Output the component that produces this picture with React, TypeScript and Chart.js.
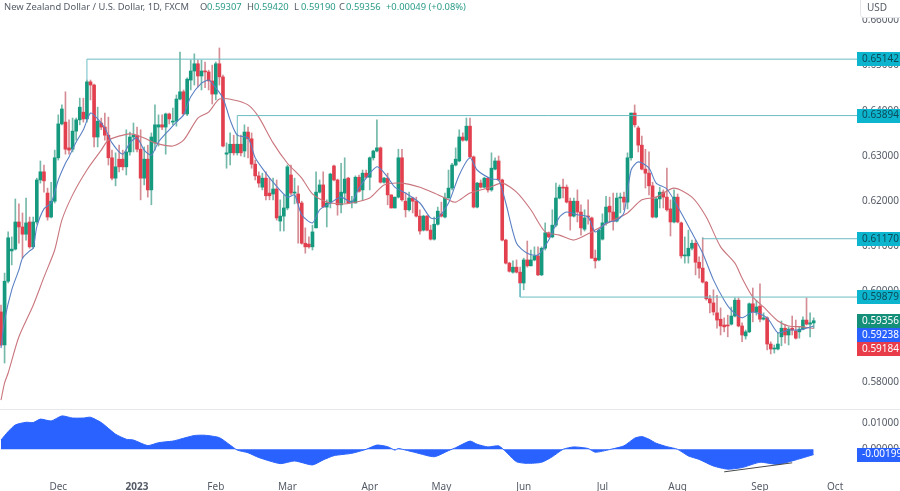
import React, { useEffect, useRef } from "react";
import { Chart, registerables } from "chart.js";

Chart.register(...registerables);

const title = "New Zealand Dollar / U.S. Dollar, 1D, FXCM";
const ohlcLabels = ["O", "H", "L", "C"];
const ohlcValues = ["0.59307", "0.59420", "0.59190", "0.59356"];
const changeLabel = "+0.00049 (+0.08%)";

const opens = [
  .5955,.5882,.6023,.6090,.6094,.6154,.6143,.6127,.6154,.6099,
  .6154,.6247,.6265,.6218,.6165,.6200,.6296,.6371,.6375,.6318,
  .6315,.6355,.6380,.6397,.6382,.6464,.6457,.6342,.6373,.6364,
  .6346,.6296,.6251,.6293,.6293,.6276,.6309,.6342,.6346,.6315,
  .6251,.6293,.6225,.6329,.6364,.6369,.6364,.6393,.6375,.6377,
  .6426,.6442,.6393,.6468,.6488,.6504,.6477,.6488,.6486,.6466,
  .6437,.6504,.6475,.6304,.6307,.6326,.6307,.6326,.6311,.6353,
  .6338,.6282,.6256,.6231,.6251,.6218,.6216,.6227,.6156,.6167,
  .6185,.6258,.6218,.6216,.6196,.6107,.6105,.6099,.6141,.6220,
  .6236,.6187,.6196,.6278,.6247,.6192,.6218,.6251,.6198,.6196,
  .6253,.6225,.6262,.6253,.6296,.6311,.6318,.6242,.6251,.6214,
  .6185,.6209,.6296,.6200,.6181,.6207,.6200,.6167,.6136,.6167,
  .6136,.6116,.6149,.6172,.6165,.6207,.6229,.6280,.6289,.6342,
  .6335,.6366,.6298,.6187,.6240,.6231,.6251,.6225,.6271,.6289,
  .6247,.6114,.6063,.6043,.6054,.6043,.6019,.6070,.6057,.6070,
  .6079,.6037,.6096,.6130,.6121,.6147,.6207,.6231,.6231,.6200,
  .6167,.6200,.6176,.6138,.6167,.6163,.6074,.6070,.6116,.6152,
  .6189,.6176,.6156,.6207,.6209,.6198,.6296,.6395,.6362,.6324,
  .6271,.6262,.6234,.6165,.6205,.6220,.6209,.6183,.6154,.6209,
  .6152,.6079,.6079,.6096,.6107,.6065,.6052,.6021,.5984,.5975,
  .5953,.5939,.5926,.5926,.5928,.5946,.5981,.5924,.5902,.5911,
  .5973,.5955,.5968,.5939,.5942,.5884,.5873,.5873,.5900,.5919,
  .5904,.5919,.5913,.5911,.5917,.5937,.5928,.59307,
];
const closes = [
  .5882,.6023,.6119,.6094,.6154,.6143,.6127,.6152,.6099,.6154,
  .6247,.6265,.6245,.6165,.6200,.6296,.6371,.6404,.6315,.6313,
  .6355,.6380,.6408,.6382,.6464,.6457,.6342,.6377,.6364,.6346,
  .6296,.6251,.6276,.6276,.6276,.6309,.6342,.6346,.6315,.6251,
  .6293,.6225,.6342,.6369,.6369,.6364,.6393,.6382,.6377,.6426,
  .6442,.6393,.6470,.6488,.6504,.6477,.6488,.6486,.6466,.6437,
  .6504,.6475,.6322,.6307,.6326,.6307,.6326,.6307,.6353,.6338,
  .6282,.6256,.6240,.6251,.6212,.6212,.6227,.6163,.6167,.6185,
  .6276,.6218,.6220,.6196,.6107,.6099,.6099,.6132,.6220,.6236,
  .6187,.6196,.6260,.6247,.6192,.6220,.6249,.6196,.6200,.6253,
  .6222,.6262,.6253,.6296,.6311,.6318,.6242,.6251,.6214,.6185,
  .6209,.6296,.6203,.6181,.6207,.6200,.6167,.6134,.6167,.6136,
  .6116,.6149,.6178,.6167,.6207,.6229,.6280,.6293,.6342,.6335,
  .6366,.6298,.6187,.6240,.6231,.6251,.6225,.6273,.6289,.6247,
  .6114,.6063,.6045,.6054,.6043,.6019,.6070,.6057,.6070,.6079,
  .6037,.6096,.6130,.6121,.6147,.6207,.6231,.6229,.6198,.6167,
  .6200,.6176,.6141,.6163,.6165,.6074,.6068,.6136,.6152,.6187,
  .6176,.6156,.6207,.6209,.6198,.6296,.6395,.6369,.6324,.6271,
  .6262,.6234,.6165,.6205,.6220,.6209,.6181,.6154,.6209,.6154,
  .6079,.6081,.6096,.6107,.6065,.6052,.6021,.5984,.5975,.5955,
  .5937,.5924,.5922,.5924,.5946,.5981,.5924,.5904,.5911,.5973,
  .5955,.5966,.5939,.5942,.5884,.5873,.5875,.5884,.5919,.5904,
  .5917,.5915,.5897,.5917,.5937,.5928,.5931,.59356,
];
const highs = [
  .5970,.6041,.6132,.6121,.6205,.6194,.6174,.6207,.6165,.6165,
  .6251,.6289,.6280,.6229,.6242,.6313,.6391,.6413,.6442,.6380,
  .6384,.6384,.6428,.6428,.6468,.6468,.6459,.6408,.6384,.6395,
  .6386,.6313,.6307,.6324,.6313,.6358,.6353,.6373,.6364,.6358,
  .6320,.6324,.6351,.6413,.6391,.6391,.6395,.6395,.6406,.6435,
  .6530,.6446,.6473,.6512,.6526,.6512,.6512,.6508,.6490,.6501,
  .6508,.6539,.6479,.6329,.6351,.6346,.6349,.6346,.6369,.6364,
  .6351,.6291,.6265,.6262,.6265,.6251,.6251,.6247,.6203,.6214,
  .6280,.6280,.6251,.6234,.6200,.6141,.6121,.6147,.6265,.6247,
  .6265,.6203,.6262,.6280,.6249,.6284,.6296,.6253,.6211,.6256,
  .6258,.6269,.6269,.6298,.6313,.6380,.6320,.6253,.6262,.6214,
  .6209,.6315,.6315,.6218,.6220,.6209,.6209,.6181,.6169,.6169,
  .6147,.6165,.6187,.6198,.6218,.6269,.6284,.6318,.6358,.6351,
  .6384,.6384,.6300,.6242,.6247,.6253,.6253,.6307,.6296,.6300,
  .6249,.6116,.6065,.6068,.6070,.6054,.6074,.6112,.6092,.6099,
  .6099,.6099,.6152,.6132,.6181,.6240,.6236,.6249,.6236,.6207,
  .6207,.6225,.6192,.6181,.6203,.6165,.6092,.6138,.6172,.6211,
  .6209,.6218,.6218,.6218,.6220,.6307,.6395,.6413,.6366,.6344,
  .6315,.6309,.6242,.6209,.6231,.6225,.6273,.6203,.6225,.6216,
  .6154,.6121,.6136,.6114,.6114,.6077,.6119,.6023,.5992,.6004,
  .5992,.5964,.5942,.5948,.5966,.5986,.5986,.5931,.5915,.5975,
  .6008,.5981,.6017,.5953,.5944,.5889,.5882,.5909,.5935,.5926,
  .5922,.5946,.5937,.5922,.5944,.5986,.5953,.5942,
];
const lows = [
  .5880,.5842,.6019,.6059,.6092,.6107,.6074,.6114,.6096,.6096,
  .6149,.6240,.6220,.6158,.6163,.6196,.6291,.6369,.6304,.6304,
  .6309,.6335,.6369,.6375,.6375,.6424,.6320,.6320,.6358,.6335,
  .6280,.6247,.6234,.6265,.6269,.6258,.6302,.6309,.6309,.6203,
  .6236,.6209,.6192,.6313,.6322,.6358,.6304,.6371,.6369,.6366,
  .6424,.6391,.6389,.6446,.6457,.6453,.6446,.6451,.6446,.6415,
  .6424,.6457,.6320,.6273,.6280,.6302,.6302,.6300,.6298,.6296,
  .6273,.6247,.6231,.6225,.6203,.6203,.6203,.6158,.6134,.6134,
  .6181,.6214,.6194,.6107,.6105,.6085,.6096,.6092,.6141,.6218,
  .6187,.6143,.6185,.6245,.6169,.6174,.6196,.6196,.6185,.6196,
  .6220,.6203,.6251,.6225,.6291,.6309,.6240,.6240,.6192,.6185,
  .6185,.6207,.6200,.6165,.6178,.6174,.6165,.6127,.6134,.6134,
  .6114,.6114,.6147,.6165,.6163,.6207,.6225,.6278,.6287,.6333,
  .6333,.6296,.6185,.6185,.6229,.6229,.6220,.6222,.6269,.6245,
  .6112,.6061,.6043,.6041,.6041,.6019,.6004,.6054,.6057,.6068,
  .6035,.6035,.6092,.6119,.6119,.6143,.6205,.6207,.6196,.6136,
  .6165,.6154,.6125,.6134,.6149,.6074,.6052,.6068,.6114,.6147,
  .6154,.6136,.6154,.6174,.6181,.6183,.6291,.6364,.6309,.6269,
  .6229,.6214,.6163,.6163,.6185,.6185,.6178,.6123,.6152,.6152,
  .6074,.6063,.6063,.6092,.6037,.6030,.6019,.5981,.5953,.5948,
  .5919,.5904,.5911,.5900,.5926,.5944,.5922,.5889,.5895,.5909,
  .5933,.5948,.5933,.5937,.5871,.5862,.5864,.5871,.5880,.5886,
  .5882,.5904,.5895,.5897,.5915,.5926,.5900,.5919,
];

const fastMaIndex = [0,1,3,5,6,8,9,10,12,14,16,18,19,21,23,25,27,29,31,34,36,38,40,42,44,47,49,51,53,56,58,59,62,64,66,69,71,74,76,80,82,84,87,89,92,95,98,100,105,108,110,113,117,120,122,125,128,131,133,137,139,141,144,147,150,153,156,158,161,164,166,169,172,174,176,178,181,183,186,190,193,196,199,202,204,207,210,214,217,220,223,227];
const fastMa = [.5875,.5937,.6004,.6048,.6074,.6090,.6096,.6143,.6183,.6196,.6247,.6284,.6298,.6331,.6358,.6395,.6382,.6362,.6329,.6304,.6329,.6340,.6313,.6302,.6331,.6358,.6375,.6391,.6431,.6461,.6468,.6461,.6428,.6380,.6346,.6340,.6296,.6262,.6242,.6209,.6214,.6170,.6152,.6181,.6196,.6209,.6198,.6229,.6276,.6253,.6231,.6218,.6196,.6163,.6163,.6196,.6258,.6296,.6269,.6249,.6247,.6196,.6107,.6085,.6081,.6114,.6165,.6176,.6170,.6165,.6132,.6152,.6158,.6174,.6269,.6287,.6273,.6240,.6227,.6174,.6130,.6085,.6026,.5981,.5959,.5942,.5955,.5942,.5909,.5915,.5915,.59238];

const slowMaIndex = [0,1,2,5,9,12,15,17,20,24,28,30,36,40,43,48,51,55,58,61,65,69,72,76,80,84,87,91,95,98,103,107,112,117,121,125,127,131,136,140,144,148,152,156,160,165,170,175,179,183,188,193,197,201,205,207,210,213,217,220,224,227];
const slowMa = [.5760,.5798,.5820,.5900,.5970,.6032,.6092,.6158,.6214,.6269,.6313,.6335,.6349,.6340,.6329,.6322,.6335,.6384,.6397,.6426,.6424,.6413,.6386,.6329,.6284,.6251,.6216,.6198,.6194,.6196,.6207,.6236,.6240,.6231,.6218,.6203,.6198,.6218,.6229,.6240,.6220,.6181,.6132,.6125,.6114,.6132,.6154,.6174,.6203,.6209,.6229,.6209,.6165,.6099,.6063,.6030,.5988,.5966,.5935,.5924,.5922,.59184];

const oscIndex = [0,2,4,7,9,11,14,17,20,23,25,28,30,32,35,37,41,44,48,50,54,57,61,64,66,69,72,78,82,87,90,93,98,102,105,108,110,111,116,121,125,127,131,133,136,139,141,144,147,151,154,157,160,164,166,170,174,177,179,181,183,186,189,192,195,199,203,207,212,217,222,227];
const oscValues = [.0035,.0067,.0092,.0102,.0101,.0114,.0107,.0126,.0118,.0118,.0121,.0101,.0079,.0057,.0038,.0035,.0014,.0025,.0031,.0038,.0052,.0053,.0044,.0016,-.0003,-.0013,-.0031,-.0054,-.0044,-.0059,-.0040,-.0024,-.0015,0,.0016,.0010,-.0003,.0003,-.0013,-.0028,-.0005,.0006,.0031,.0019,.0009,.0013,-.0009,-.0047,-.0053,-.0049,-.0028,0,.0009,.0003,-.0011,-.0001,.0013,.0042,.0048,.0038,.0023,.0010,0,-.0025,-.0038,-.0063,-.0075,-.0069,-.0049,-.0057,-.0040,-.00199];
const trendIndex = [202, 221];
const trendValues = [-.0085, -.0051];

const levelValues = [0.65142, 0.63894, 0.6117, 0.59879];
const levelStart = [24, 66, 196, 145];
const levelAnchor = [highs[24], highs[66], highs[196], lows[145]];

const monthIndex = [16, 38, 60, 80, 103, 123, 146, 168, 189, 212, 233];
const monthLabels = ["Dec", "2023", "Feb", "Mar", "Apr", "May", "Jun", "Jul", "Aug", "Sep", "Oct"];
const priceTicks = [0.58, 0.59, 0.6, 0.61, 0.62, 0.63, 0.64, 0.65, 0.66];
const oscTicks = [0, 0.01];

const UP = "#159a80";
const DOWN = "#e2404f";
const UP_WICK = "#74b9a9";
const DOWN_WICK = "#d58d95";
const FONT = '"Noto Sans"';
const X_MIN = -0.28;
const X_MAX = 239.1;

function tag(ctx: CanvasRenderingContext2D, y: number, text: string, bg: string, fg: string) {
  ctx.fillStyle = bg;
  ctx.fillRect(857, Math.round(y - 7), 43, 14);
  ctx.fillStyle = fg;
  ctx.font = `10px ${FONT}`;
  ctx.textAlign = "left";
  ctx.textBaseline = "middle";
  ctx.fillText(text, 862, y);
}

const overlay = {
  id: "overlay",
  afterDraw(chart: any) {
    const ctx: CanvasRenderingContext2D = chart.ctx;
    const { y, y2 } = chart.scales;
    ctx.save();
    ctx.strokeStyle = "#e6e8ec";
    ctx.lineWidth = 1;
    ctx.beginPath();
    ctx.moveTo(0, y2.top + 0.5);
    ctx.lineTo(900, y2.top + 0.5);
    ctx.stroke();

    levelValues.forEach((v) => tag(ctx, y.getPixelForValue(v), v.toFixed(5), "#0db4cd", "#0c4a58"));

    const last = closes[closes.length - 1];
    const fast = fastMa[fastMa.length - 1];
    const slow = slowMa[slowMa.length - 1];
    const y1 = y.getPixelForValue(last);
    const yFast = Math.max(y.getPixelForValue(fast), y1 + 14);
    const ySlow = Math.max(y.getPixelForValue(slow), yFast + 14);
    tag(ctx, y1, last.toFixed(5), "#14907a", "#ffffff");
    tag(ctx, yFast, fast.toFixed(5), "#2962ff", "#ffffff");
    tag(ctx, ySlow, slow.toFixed(5), "#e83c4a", "#ffffff");
    const oscLast = oscValues[oscValues.length - 1];
    tag(ctx, y2.getPixelForValue(oscLast), oscLast.toFixed(5), "#2962ff", "#ffffff");

    // header
    ctx.textBaseline = "middle";
    ctx.textAlign = "left";
    ctx.font = `9.4px ${FONT}`;
    ctx.fillStyle = "#555b66";
    ctx.fillText(title, 4, 7.5);
    const xs = [200, 247, 294, 339];
    ohlcLabels.forEach((l, i) => {
      ctx.fillStyle = "#555b66";
      ctx.fillText(l, xs[i], 7.5);
      ctx.fillStyle = "#2c9c8a";
      ctx.fillText(ohlcValues[i], xs[i] + 7, 7.5);
    });
    ctx.fillText(changeLabel, 386, 7.5);

    // currency button
    ctx.fillStyle = "#ffffff";
    ctx.strokeStyle = "#e3e5ea";
    ctx.beginPath();
    ctx.roundRect(860.5, -6, 45, 23.5, 3);
    ctx.fill();
    ctx.stroke();
    ctx.fillStyle = "#555b66";
    ctx.font = `10px ${FONT}`;
    ctx.fillText("USD", 867, 8.5);
    ctx.restore();
  },
};

export default function App() {
  const ref = useRef<HTMLCanvasElement>(null);
  useEffect(() => {
    if (!ref.current) return;
    const idx = opens.map((_, i) => i);
    const levelSets = levelValues.map((v, k) => ({
      type: "line" as const,
      data: [
        { x: levelStart[k], y: levelAnchor[k] },
        { x: levelStart[k], y: v },
        { x: X_MAX, y: v },
      ],
      borderColor: "#6cbcc2",
      borderWidth: 1,
      pointRadius: 0,
      yAxisID: "y",
      order: 0,
    }));
    const fixWidth = (s: any) => {
      s.width = 43;
      s.paddingTop = 0;
      s.paddingBottom = 0;
    };
    const chart = new Chart(ref.current, {
      type: "bar",
      data: {
        datasets: [
          ...levelSets,
          {
            type: "line",
            data: fastMaIndex.map((x, i) => ({ x, y: fastMa[i] })),
            borderColor: "#5a80c4",
            borderWidth: 1.1,
            pointRadius: 0,
            tension: 0.25,
            yAxisID: "y",
            order: 1,
          },
          {
            type: "line",
            data: slowMaIndex.map((x, i) => ({ x, y: slowMa[i] })),
            borderColor: "#c9757d",
            borderWidth: 1.1,
            pointRadius: 0,
            tension: 0.25,
            yAxisID: "y",
            order: 1,
          },
          {
            type: "bar",
            data: idx.map((i) => ({ x: i, y: [opens[i], closes[i]] })),
            backgroundColor: idx.map((i) => (closes[i] >= opens[i] ? UP : DOWN)),
            barThickness: 3,
            minBarLength: 1,
            grouped: false,
            yAxisID: "y",
            order: 2,
          },
          {
            type: "bar",
            data: idx.map((i) => ({ x: i, y: [lows[i], highs[i]] })),
            backgroundColor: idx.map((i) => (closes[i] >= opens[i] ? UP_WICK : DOWN_WICK)),
            barThickness: 1,
            grouped: false,
            yAxisID: "y",
            order: 3,
          },
          {
            type: "line",
            data: oscIndex.map((x, i) => ({ x, y: oscValues[i] })),
            borderColor: "#2962ff",
            backgroundColor: "#2962ff",
            borderWidth: 1,
            pointRadius: 0,
            tension: 0.2,
            fill: { value: 0 },
            yAxisID: "y2",
            order: 4,
          },
          {
            type: "line",
            data: trendIndex.map((x, i) => ({ x, y: trendValues[i] })),
            borderColor: "#4a4a4a",
            borderWidth: 1,
            pointRadius: 0,
            yAxisID: "y2",
            order: 0,
          },
        ] as any,
      },
      options: {
        responsive: false,
        animation: false,
        events: [],
        layout: { padding: 0, autoPadding: false },
        plugins: { legend: { display: false }, tooltip: { enabled: false } },
        scales: {
          x: {
            type: "linear",
            offset: false,
            min: X_MIN,
            max: X_MAX,
            grid: { display: false, drawTicks: false },
            border: { display: false },
            afterBuildTicks: (s: any) => { s.ticks = monthIndex.map((value) => ({ value })); },
            afterFit: (s: any) => { s.height = 18; s.paddingLeft = 0; s.paddingRight = 0; },
            ticks: {
              autoSkip: false,
              maxRotation: 0,
              padding: 8,
              color: "#555b66",
              font: (c: any) => ({ family: FONT, size: 10, weight: c.tick && c.tick.label === "2023" ? "bold" : "normal" }),
              callback: (v: any) => monthLabels[monthIndex.indexOf(Number(v))] ?? "",
            },
          },
          y: {
            position: "right",
            stack: "panes",
            stackWeight: 409,
            min: 0.57403,
            max: 0.66451,
            grid: { display: false, drawTicks: false },
            border: { display: false },
            afterBuildTicks: (s: any) => { s.ticks = priceTicks.map((value) => ({ value })); },
            afterFit: fixWidth,
            ticks: {
              padding: 5,
              color: "#555b66",
              font: { family: FONT, size: 10 },
              callback: (v: any) => Number(v).toFixed(5),
            },
          },
          y2: {
            position: "right",
            stack: "panes",
            stackWeight: 64,
            min: -0.00894,
            max: 0.01521,
            grid: { display: false, drawTicks: false },
            border: { display: false },
            afterBuildTicks: (s: any) => { s.ticks = oscTicks.map((value) => ({ value })); },
            afterFit: fixWidth,
            ticks: {
              padding: 5,
              color: "#555b66",
              font: { family: FONT, size: 10 },
              callback: (v: any) => Number(v).toFixed(5),
            },
          },
        },
      } as any,
      plugins: [overlay],
    });
    return () => chart.destroy();
  }, []);
  return (
    <div style={{ position: "absolute", left: 0, top: 0, width: 900, height: 491, background: "#fff" }}>
      <canvas ref={ref} width={900} height={491} style={{ display: "block" }} />
    </div>
  );
}
